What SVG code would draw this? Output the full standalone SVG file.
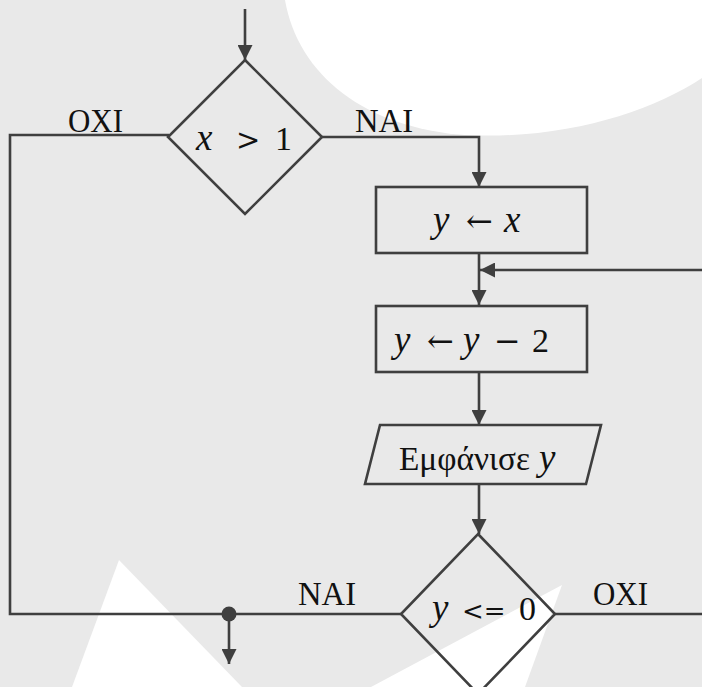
<svg xmlns="http://www.w3.org/2000/svg" width="702" height="687" viewBox="0 0 702 687">
  <style>
    .shape { fill: none; stroke: #3f3f3f; stroke-width: 2.6; stroke-linejoin: miter; }
    .conn { fill: none; stroke: #3f3f3f; stroke-width: 2.6; }
    .lbl { font-family: "Liberation Serif", "DejaVu Serif", serif; font-size: 34px; fill: #111; }
    .math { font-family: "Liberation Serif", "DejaVu Serif", serif; font-size: 34px; fill: #111; }
    .mi { font-style: italic; font-size: 37px; }
    .op { font-family: "DejaVu Serif", "Liberation Serif", serif; }
  </style>
  <defs>
    <marker id="arr" markerUnits="userSpaceOnUse" markerWidth="15" markerHeight="15" refX="15" refY="7.5" orient="auto">
      <path d="M0,0 L15,7.5 L0,15 Z" fill="#3f3f3f"/>
    </marker>
  </defs>

  <g id="background">
    <rect x="0" y="0" width="702" height="687" fill="#e9e9e9"/>
    <path d="M285,0 C298,75 365,128 465,135 C565,140 650,112 702,78 L702,0 Z" fill="#ffffff"/>
    <polygon points="119,560 72,687 242,687" fill="#ffffff"/>
    <polygon points="562,585 371,687 525,687" fill="#ffffff"/>
  </g>

  <g id="connectors">
    <path class="conn" d="M245,9 V60" marker-end="url(#arr)"/>
    <path class="conn" d="M322,137 H479 V187" marker-end="url(#arr)"/>
    <path class="conn" d="M479,253 V305" marker-end="url(#arr)"/>
    <path class="conn" d="M479,372 V425" marker-end="url(#arr)"/>
    <path class="conn" d="M479,484 V534" marker-end="url(#arr)"/>
    <path class="conn" d="M555,614 H706 V270 H480" marker-end="url(#arr)"/>
    <path class="conn" d="M169,135 H10 V614 H401"/>
    <path class="conn" d="M229,614 V664" marker-end="url(#arr)"/>
    <circle cx="229" cy="614" r="7.5" fill="#3f3f3f"/>
    <text class="lbl" x="68" y="132" textLength="55" lengthAdjust="spacingAndGlyphs">OXI</text>
    <text class="lbl" x="355" y="132" textLength="58" lengthAdjust="spacingAndGlyphs">NAI</text>
    <text class="lbl" x="298" y="605" textLength="58" lengthAdjust="spacingAndGlyphs">NAI</text>
    <text class="lbl" x="593" y="605" textLength="55" lengthAdjust="spacingAndGlyphs">OXI</text>
  </g>

  <g id="decision1">
    <polygon class="shape" points="245,60 322,137 245,214 168,137"/>
    <text class="math" y="150"><tspan class="mi" x="196">x</tspan><tspan class="op" x="236" font-size="29">&gt;</tspan><tspan x="275">1</tspan></text>
  </g>

  <g id="assign1">
    <rect class="shape" x="376" y="187" width="211" height="66"/>
    <text class="math" y="232"><tspan class="mi" x="433">y</tspan><tspan class="op" x="466" font-size="32">←</tspan><tspan class="mi" x="504">x</tspan></text>
  </g>

  <g id="assign2">
    <rect class="shape" x="376" y="306" width="211" height="66"/>
    <text class="math" y="352"><tspan class="mi" x="394">y</tspan><tspan class="op" x="427" font-size="32">←</tspan><tspan class="mi" x="463">y</tspan><tspan class="op" x="494" font-size="32">−</tspan><tspan x="532">2</tspan></text>
  </g>

  <g id="output">
    <polygon class="shape" points="380,425 601,425 586,484 365,484"/>
    <text class="math" y="470" font-size="33"><tspan x="399" textLength="131" lengthAdjust="spacingAndGlyphs">Εμφάνισε</tspan><tspan class="mi" x="539">y</tspan></text>
  </g>

  <g id="decision2">
    <polygon class="shape" points="478,534 555,614 478,694 401,614"/>
    <text class="math" y="620" font-size="31"><tspan class="mi" x="432" font-size="34">y</tspan><tspan class="op" x="462" font-size="26">&lt;=</tspan><tspan x="519">0</tspan></text>
  </g>
</svg>
